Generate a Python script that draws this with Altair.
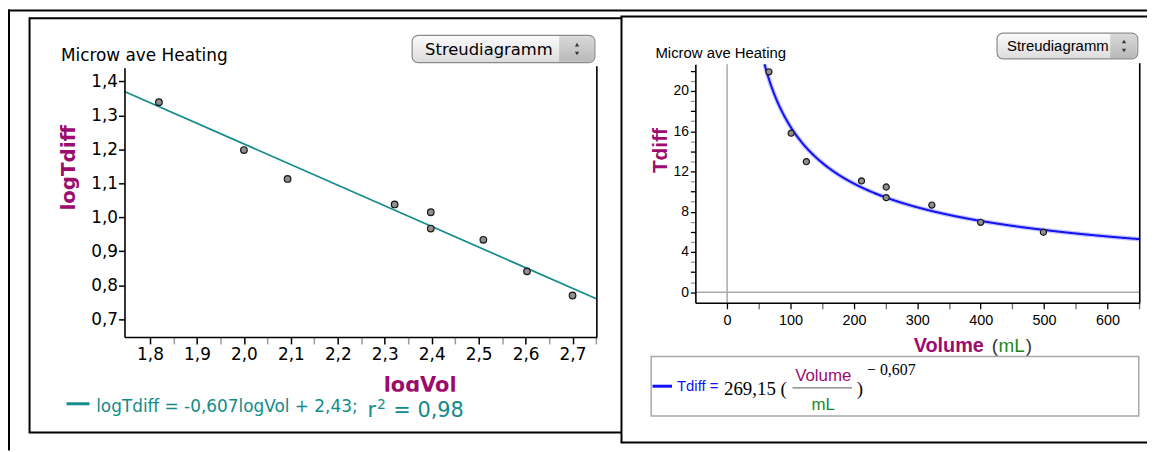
import altair as alt
import pandas as pd

# ---------------- data ----------------
log_vol = [1.819, 2.000, 2.093, 2.321, 2.398, 2.398, 2.510, 2.603, 2.700]
log_tdiff = [1.339, 1.198, 1.113, 1.038, 1.015, 0.967, 0.934, 0.841, 0.770]

volume = [66, 101, 125, 212, 251, 251, 323, 400, 499]
tdiff = [21.9, 15.8, 12.97, 11.06, 10.46, 9.4, 8.66, 6.95, 5.96]

fit_slope = -0.607
fit_intercept = 2.43
pow_coef = 269.15
pow_exp = -0.607

left_x_ticks = [1.8, 1.9, 2.0, 2.1, 2.2, 2.3, 2.4, 2.5, 2.6, 2.7]
left_x_minor = [1.85, 1.95, 2.05, 2.15, 2.25, 2.35, 2.45, 2.55, 2.65, 2.75]
left_y_ticks = [0.7, 0.8, 0.9, 1.0, 1.1, 1.2, 1.3, 1.4]
right_x_ticks = [0, 100, 200, 300, 400, 500, 600]
right_x_minor = [50, 150, 250, 350, 450, 550, 650]
right_y_ticks = [0, 2, 4, 6, 8, 10, 12, 14, 16, 18, 20, 22]
right_y_minor = [1, 3, 5, 7, 9, 11, 13, 15, 17, 19, 21]

left_x_domain = [1.7456, 2.7518]
left_y_domain = [0.648, 1.44]
right_x_domain = [-50.1, 651]
right_y_domain = [-1.046, 22.66]

# ---------------- styles ----------------
W, H = 1147, 444
SANS_L = "DejaVu Sans"
SANS_R = "Liberation Sans"
SERIF = "Liberation Serif"
PURPLE = "#9c0b6e"
TEAL = "#128b8b"
BLUE = "#1212f5"
GREEN = "#1b8a1b"

LX = alt.Scale(domain=left_x_domain, range=[117.3, 593.0], nice=False, zero=False)
LY = alt.Scale(domain=left_y_domain, range=[329.7, 58.7], nice=False, zero=False)
RX = alt.Scale(domain=right_x_domain, range=[692.2, 1139.7], nice=False, zero=False)
RY = alt.Scale(domain=right_y_domain, range=[295.3, 55.0], nice=False, zero=False)

one = pd.DataFrame({"k": [0]})
comma1 = "replace(format(datum.value, '.1f'), '.', ',')"


def txt(s, x, y, size, color="black", font=SANS_R, weight="normal",
        align="left", angle=0, baseline="alphabetic"):
    return alt.Chart(pd.DataFrame({"t": [s]})).mark_text(
        font=font, fontSize=size, color=color, fontWeight=weight,
        align=align, baseline=baseline, angle=angle,
    ).encode(text="t:N", x=alt.value(x), y=alt.value(y))


def box(x1, y1, x2, y2, fill="white", stroke=None, sw=1, radius=0, **kw):
    props = dict(fill=fill, cornerRadius=radius, **kw)
    if stroke is not None:
        props.update(stroke=stroke, strokeWidth=sw)
    return alt.Chart(one).mark_rect(**props).encode(
        x=alt.value(x1), x2=alt.value(x2), y=alt.value(y1), y2=alt.value(y2))


def rule(x1, y1, x2, y2, color="black", sw=1):
    return alt.Chart(one).mark_rule(color=color, strokeWidth=sw).encode(
        x=alt.value(x1), x2=alt.value(x2), y=alt.value(y1), y2=alt.value(y2))


def tri(shape, x, y):
    return alt.Chart(one).mark_point(shape=shape, filled=True, size=18,
                                     color="#333333", opacity=1).encode(
        x=alt.value(x), y=alt.value(y))


def button(x1, y1, x2, y2, split, label, tx, ty, size, font):
    grad = alt.Gradient(gradient="linear",
                        stops=[alt.GradientStop(color="#fbfbfb", offset=0),
                               alt.GradientStop(color="#dcdcdc", offset=1)],
                        x1=0, x2=0, y1=0, y2=1)
    grad2 = alt.Gradient(gradient="linear",
                         stops=[alt.GradientStop(color="#d8d8d8", offset=0),
                                alt.GradientStop(color="#b9b9b9", offset=1)],
                         x1=0, x2=0, y1=0, y2=1)
    cx = (split + x2) / 2
    cy = (y1 + y2) / 2
    return [
        box(x1, y1, x2, y2, fill=grad, radius=6),
        box(split, y1 + 1, x2 - 1, y2 - 1, fill=grad2,
            cornerRadiusTopRight=5, cornerRadiusBottomRight=5),
        box(x1, y1, x2, y2, fill="transparent", stroke="#8a8a8a", sw=1.2, radius=6),
        txt(label, tx, ty, size, font=font),
        tri("triangle-up", cx, cy - 4.5),
        tri("triangle-down", cx, cy + 4.5),
    ]


layers = []

# ---------------- frames ----------------
layers.append(rule(0, 1, W, 1, sw=2))
layers.append(rule(1, 0, 1, H, sw=2))
layers.append(box(21.7, 8.7, 640, 426, stroke="black", sw=2))

# ---------------- left panel ----------------
left_pts = pd.DataFrame({"logVol": log_vol, "logTdiff": log_tdiff})
left_line = pd.DataFrame({"logVol": left_x_domain})

layers.append(
    alt.Chart(left_line).transform_calculate(
        logTdiff=f"{fit_intercept} + ({fit_slope}) * datum.logVol"
    ).mark_line(color=TEAL, strokeWidth=1.7).encode(
        x=alt.X("logVol:Q", scale=LX, axis=alt.Axis(
            orient="bottom", offset=-114.3, values=left_x_minor, labels=False,
            domain=False, grid=False, title=None, tickColor="#9a9a9a",
            tickWidth=1.5, tickSize=7, zindex=2)),
        y=alt.Y("logTdiff:Q", scale=LY, axis=None),
    )
)
layers.append(
    alt.Chart(left_pts).mark_circle(size=44, color="#8f8f8f", stroke="#151515",
                                    strokeWidth=1.2, opacity=1).encode(
        x=alt.X("logVol:Q", scale=LX, axis=alt.Axis(
            orient="bottom", offset=-114.3, values=left_x_ticks, labelExpr=comma1,
            grid=False, title=None, domainColor="black", domainWidth=1.6,
            tickColor="black", tickWidth=1.5, tickSize=7, labelFont=SANS_L,
            labelFontSize=17, labelColor="black", labelPadding=3,
            labelFlush=False, labelOverlap=False, zindex=2)),
        y=alt.Y("logTdiff:Q", scale=LY, axis=alt.Axis(
            orient="left", offset=-117.3, values=left_y_ticks, labelExpr=comma1,
            grid=False, title=None, domainColor="black", domainWidth=1.6,
            tickColor="black", tickWidth=1.5, tickSize=6, labelFont=SANS_L,
            labelFontSize=17, labelColor="black", labelPadding=1,
            labelFlush=False, labelOverlap=False, zindex=2)),
    )
)
layers.append(rule(593, 57, 593, 329.7, sw=1.6))

layers.append(txt("Microw ave Heating", 53.3, 52, 17, font=SANS_L))
layers += button(407, 26, 591, 53.5, 555, "Streudiagramm", 420, 45.5, 16.5, SANS_L)
layers.append(txt("logTdiff", 67, 159.5, 20, color=PURPLE, font=SANS_L,
                  weight="bold", align="center", angle=270))
layers.append(txt("logVol", 415, 384.7, 21, color=PURPLE, font=SANS_L,
                  weight="bold", align="center"))
layers.append(box(40, 385, 610, 391, fill="white"))

layers.append(rule(59, 397, 82, 397, color=TEAL, sw=3))
layers.append(txt(f"logTdiff = {fit_slope}logVol + {fit_intercept};".replace(".", ","),
                  88.8, 405.3, 17, color=TEAL, font=SANS_L))
layers.append(txt("r", 362, 410.3, 21, color=TEAL, font=SANS_L))
layers.append(txt("2", 371.5, 402, 14, color=TEAL, font=SANS_L))
layers.append(txt("= 0,98", 388, 410.3, 21, color=TEAL, font=SANS_L))

# ---------------- right panel ----------------
layers.append(box(617.8, 7, 1160, 436, stroke="black", sw=2))

zero_x = pd.DataFrame({"Volume": [0]})
zero_y = pd.DataFrame({"Tdiff": [0]})
layers.append(alt.Chart(zero_x).mark_rule(color="#a9a9a9", strokeWidth=1.5).encode(
    x=alt.X("Volume:Q", scale=RX, axis=None), y=alt.value(55), y2=alt.value(295.3)))
layers.append(alt.Chart(zero_y).mark_rule(color="#a9a9a9", strokeWidth=1.5).encode(
    y=alt.Y("Tdiff:Q", scale=RY, axis=None), x=alt.value(692.2), x2=alt.value(1139.7)))

curve = alt.Chart(alt.sequence(59, 652, 1, as_="Volume")).transform_calculate(
    Tdiff=f"{pow_coef} * pow(datum.Volume, {pow_exp})")
layers.append(curve.mark_line(color="#7a7aff", strokeWidth=4.5, opacity=0.45).encode(
    x=alt.X("Volume:Q", scale=RX, axis=None), y=alt.Y("Tdiff:Q", scale=RY, axis=None)))
layers.append(curve.mark_line(color=BLUE, strokeWidth=2).encode(
    x=alt.X("Volume:Q", scale=RX, axis=alt.Axis(
        orient="bottom", offset=-148.7, values=right_x_minor, labels=False,
        domain=False, grid=False, title=None, tickColor="#6a6a6a",
        tickWidth=1.3, tickSize=6, zindex=2)),
    y=alt.Y("Tdiff:Q", scale=RY, axis=alt.Axis(
        orient="left", offset=-692.2, values=right_y_minor, labels=False,
        domain=False, grid=False, title=None, tickColor="#9a9a9a",
        tickWidth=1.3, tickSize=5, zindex=2)),
))

right_pts = pd.DataFrame({"Volume": volume, "Tdiff": tdiff})
layers.append(
    alt.Chart(right_pts).mark_circle(size=38, color="#8f8f8f", stroke="#151515",
                                     strokeWidth=1.2, opacity=1).encode(
        x=alt.X("Volume:Q", scale=RX, axis=alt.Axis(
            orient="bottom", offset=-148.7, values=right_x_ticks, format="d",
            grid=False, title=None, domainColor="black", domainWidth=1.6,
            tickColor="black", tickWidth=1.3, tickSize=6, labelFont=SANS_R,
            labelFontSize=14.5, labelColor="black", labelPadding=5,
            labelFlush=False, labelOverlap=False, zindex=2)),
        y=alt.Y("Tdiff:Q", scale=RY, axis=alt.Axis(
            orient="left", offset=-692.2, values=right_y_ticks,
            labelExpr="datum.value % 4 == 0 ? datum.label : ''",
            grid=False, title=None, domainColor="black", domainWidth=1.6,
            tickColor="black", tickWidth=1.3, tickSize=5, labelFont=SANS_R,
            labelFontSize=14, labelColor="black", labelPadding=2,
            labelFlush=False, labelOverlap=False, zindex=2)),
    )
)
layers.append(rule(1139.7, 54, 1139.7, 295.3, sw=1.6))

layers.append(txt("Microw ave Heating", 652, 48.5, 15))
layers += button(996, 23.7, 1137.7, 49.7, 1110, "Streudiagramm", 1006, 41.5, 15, SANS_R)
layers.append(txt("Tdiff", 664, 142, 21, color=PURPLE, weight="bold",
                  align="center", angle=270))
layers.append(txt("Volume", 912, 345.3, 20, color=PURPLE, weight="bold"))
layers.append(txt("(", 990.7, 345.3, 19, color="#333333"))
layers.append(txt("mL", 997.5, 345.3, 19, color=GREEN))
layers.append(txt(")", 1024.8, 345.3, 19, color="#333333"))

# legend box of the power fit
layers.append(box(647.7, 349.3, 1138.7, 409.3, stroke="#a8a8a8", sw=1.5))
layers.append(rule(649, 379.3, 668.7, 379.3, color=BLUE, sw=3))
layers.append(txt("Tdiff =", 673.7, 383.7, 15, color=BLUE))
layers.append(txt(f"{pow_coef} (".replace(".", ","), 721, 388, 19, font=SERIF))
layers.append(txt("Volume", 821, 374.3, 17, color=PURPLE, align="center"))
layers.append(rule(790, 381, 850, 381, color="#555555", sw=1))
layers.append(txt("mL", 821, 403.7, 17, color=GREEN, align="center"))
layers.append(txt(")", 854.7, 388, 19, font=SERIF))
layers.append(txt(f"\u2212 {abs(pow_exp)}".replace(".", ","), 865, 368, 16, font=SERIF))

chart = alt.layer(*layers).resolve_scale(
    x="independent", y="independent"
).resolve_axis(
    x="independent", y="independent"
).properties(
    width=W, height=H, padding=0, background="white",
    autosize=alt.AutoSizeParams(type="none"),
).configure_view(stroke=None)

chart.save("out.html", embed_options={"renderer": "svg", "actions": False})
